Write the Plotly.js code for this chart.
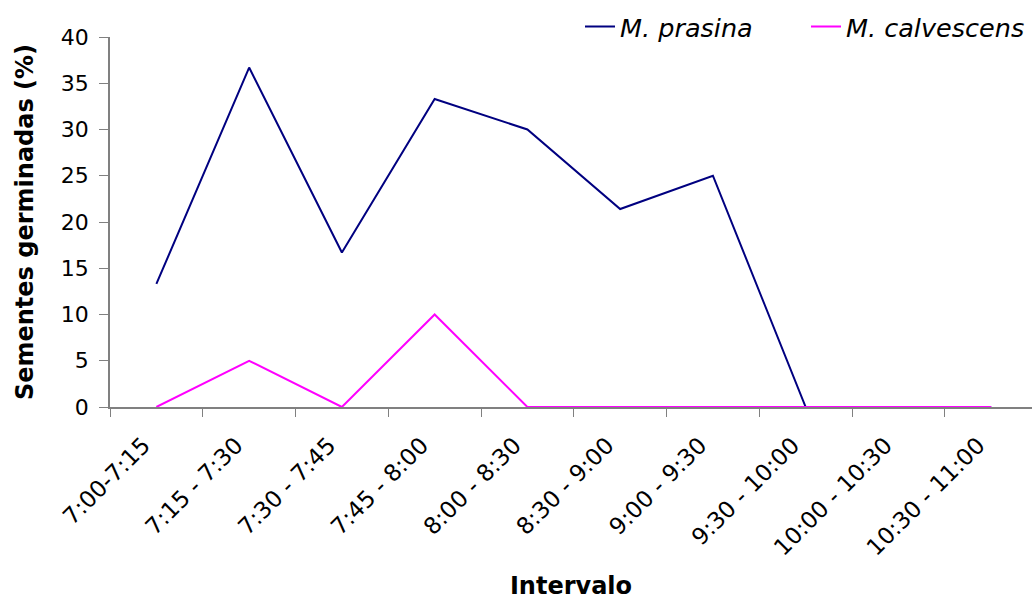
<!DOCTYPE html>
<html><head><meta charset="utf-8">
<script src="https://cdn.plot.ly/plotly-3.0.1.min.js"></script>
<style>body{margin:0;background:#fff}#c{width:1032px;height:600px}</style>
</head><body><div id="c"></div>
<script>
const intervals = ["7:00-7:15","7:15 - 7:30","7:30 - 7:45","7:45 - 8:00","8:00 - 8:30","8:30 - 9:00","9:00 - 9:30","9:30 - 10:00","10:00 - 10:30","10:30 - 11:00"];
const prasina = [13.3, 36.7, 16.7, 33.3, 30, 21.4, 25, 0, 0, 0];
const calvescens = [0, 5, 0, 10, 0, 0, 0, 0, 0, 0];
const yTicks = [0,5,10,15,20,25,30,35,40];

const font = "DejaVu Sans, Liberation Sans, Arial, sans-serif";
const data = [
  {x: intervals, y: prasina, type: "scatter", mode: "lines", name: "<i>M. prasina</i>",
   line: {color: "#000080", width: 2}, cliponaxis: false},
  {x: intervals, y: calvescens, type: "scatter", mode: "lines", name: "<i>M. calvescens</i>",
   line: {color: "#FF00FF", width: 2}, cliponaxis: false}
];
const layout = {
  width: 1032, height: 600,
  margin: {l: 110, r: 0, t: 37, b: 193},
  paper_bgcolor: "#fff", plot_bgcolor: "#fff",
  font: {family: font, size: 22, color: "#000"},
  showlegend: true,
  legend: {orientation: "h", x: 1, xanchor: "right", y: 1.027, yanchor: "middle",
           entrywidth: 181, entrywidthmode: "pixels",
           font: {family: font, size: 25.5, color: "#000"}, bgcolor: "rgba(0,0,0,0)"},
  xaxis: {type: "category", range: [-0.5, 9.44], tickangle: -45, tickson: "boundaries",
          ticks: "outside", ticklen: 8, tickcolor: "#808080", showline: true, linecolor: "#808080",
          linewidth: 1.5, showgrid: false, zeroline: false, layer: "below traces",
          ticklabelshift: -13, ticklabelstandoff: 14,
          tickfont: {family: font, size: 23},
          title: {text: "<b>Intervalo</b>", font: {family: font, size: 24}, standoff: 24}},
  yaxis: {range: [0, 40], tickvals: yTicks, ticktext: yTicks.map(String),
          ticks: "outside", ticklen: 9, tickcolor: "#808080", showline: true, linecolor: "#808080",
          linewidth: 1.5, showgrid: false, zeroline: false, layer: "below traces",
          ticklabelstandoff: 6,
          tickfont: {family: font, size: 22},
          title: {text: "<b>Sementes germinadas (%)</b>", font: {family: font, size: 24}, standoff: 20}}
};
Plotly.newPlot("c", data, layout, {displayModeBar: false});
</script></body></html>
